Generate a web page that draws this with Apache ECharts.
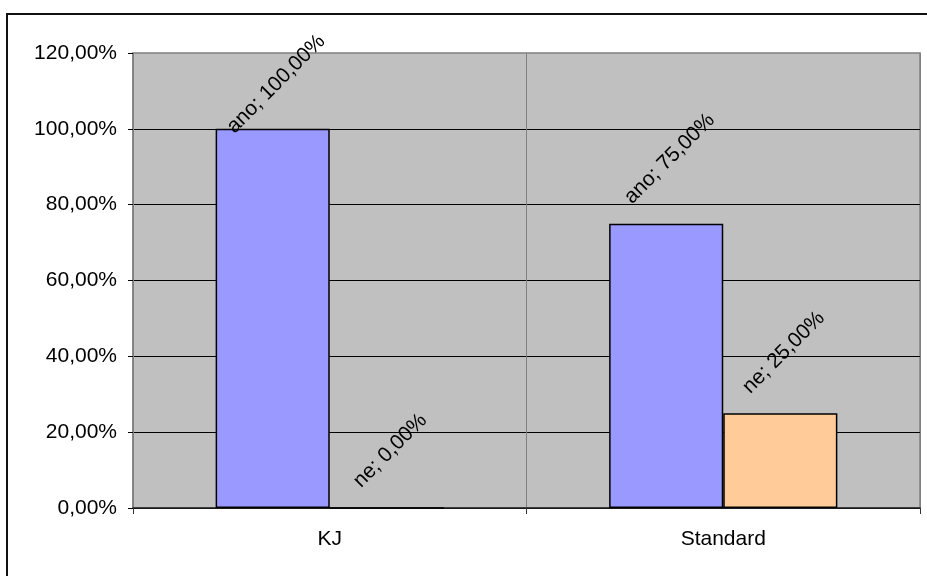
<!DOCTYPE html>
<html>
<head>
<meta charset="utf-8">
<script src="https://cdn.jsdelivr.net/npm/echarts@6/dist/echarts.min.js"></script>
<style>
  html, body { margin: 0; padding: 0; background: #fff; }
  #chart { width: 927px; height: 576px; }
</style>
</head>
<body>
<div id="chart"></div>
<script>
// Share of answers per method
const categories = ['KJ', 'Standard'];
const seriesNames = ['ano', 'ne'];
const anoValues = [100, 75];
const neValues = [0, 25];
const yTicks = { min: 0, max: 120, interval: 20 };

const FONT = '"Liberation Sans", Arial, sans-serif';
const FONT_SIZE = 21;

function pct(v) {
  return v.toFixed(2).replace('.', ',') + '%';
}
function labelText(name, v) {
  return name + '; ' + pct(v);
}

const colors = ['#9999FF', '#FFCC99'];
const valueSets = [anoValues, neValues];

function buildSeries(positions) {
  return seriesNames.map((name, s) => ({
    name: name,
    type: 'bar',
    barGap: '0%',
    barCategoryGap: '42%',
    itemStyle: { color: colors[s], borderColor: '#000', borderWidth: 1.5 },
    data: valueSets[s].map((v, i) => ({
      value: v,
      label: {
        show: true,
        position: positions ? positions[s][i] : 'top',
        rotate: 45,
        align: 'center',
        verticalAlign: 'middle',
        color: '#000',
        fontFamily: FONT,
        fontSize: FONT_SIZE,
        formatter: () => labelText(name, v)
      }
    }))
  }));
}

const option = {
  animation: false,
  backgroundColor: '#fff',
  graphic: [{
    type: 'rect',
    silent: true,
    shape: { x: 7, y: 14, width: 960, height: 620 },
    style: { fill: null, stroke: '#111', lineWidth: 2 }
  }],
  grid: {
    left: 133, top: 53, right: 7, bottom: 68,
    show: true,
    backgroundColor: '#C0C0C0',
    borderColor: '#808080',
    borderWidth: 1.5
  },
  xAxis: {
    type: 'category',
    data: categories,
    axisLine: { lineStyle: { color: '#222', width: 1.5 } },
    axisTick: { show: true, length: 6, lineStyle: { color: '#333' } },
    splitLine: { show: true, lineStyle: { color: '#808080', width: 1 } },
    axisLabel: { color: '#000', fontFamily: FONT, fontSize: FONT_SIZE, margin: 21 }
  },
  yAxis: {
    type: 'value',
    min: yTicks.min,
    max: yTicks.max,
    interval: yTicks.interval,
    axisLine: { show: true, lineStyle: { color: '#808080', width: 1.5 } },
    axisTick: { show: true, length: 5, lineStyle: { color: '#000' } },
    splitLine: { show: true, showMaxLine: false, lineStyle: { color: '#000', width: 1 } },
    axisLabel: {
      color: '#000', fontFamily: FONT, fontSize: FONT_SIZE, margin: 16,
      formatter: v => pct(v)
    }
  },
  series: buildSeries(null)
};

const chart = echarts.init(document.getElementById('chart'));
chart.setOption(option);

// Place each rotated label centred above its bar, kept inside the chart frame
function placeLabels() {
  const ctx = document.createElement('canvas').getContext('2d');
  ctx.font = FONT_SIZE + 'px ' + FONT;
  const k = Math.SQRT1_2;
  const gap = 15;
  const topLimit = 30;
  const positions = seriesNames.map((name, s) => valueSets[s].map((v, i) => {
    const w = ctx.measureText(labelText(name, v)).width;
    const half = (w + FONT_SIZE * 1.1) * k / 2;
    const barTop = chart.convertToPixel({ gridIndex: 0 }, [i, v])[1];
    let cy = barTop - gap - half;
    if (cy - half < topLimit) cy = topLimit + half;
    return ['53%', cy - barTop];
  }));
  chart.setOption({ series: buildSeries(positions) });
}
placeLabels();
</script>
</body>
</html>
